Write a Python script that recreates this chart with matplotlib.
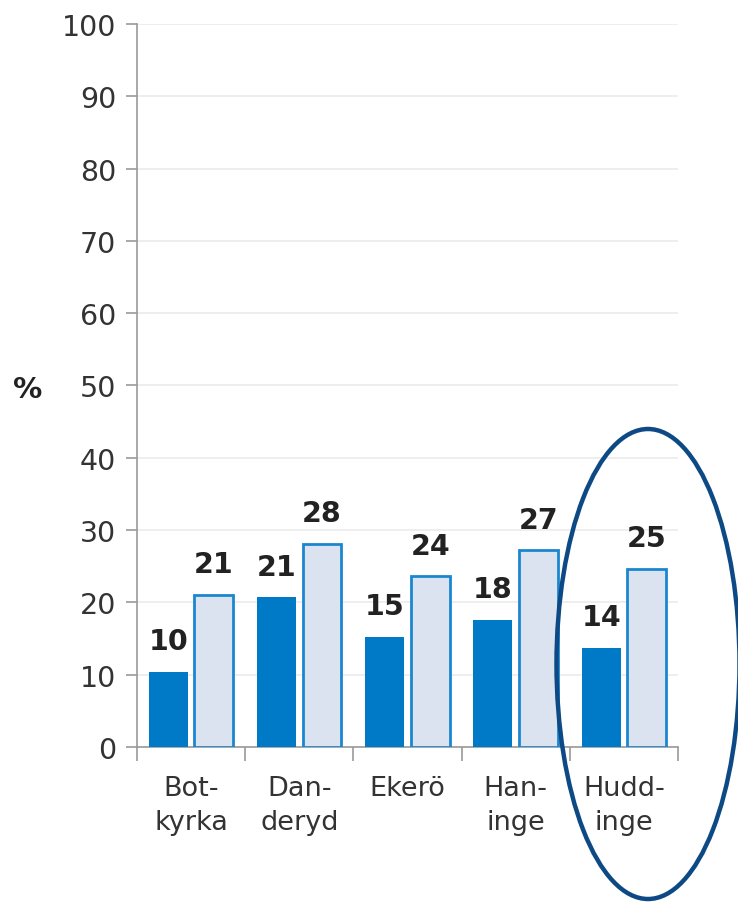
import matplotlib.pyplot as plt
import numpy as np
from matplotlib.patches import Ellipse

# Data
municipalities = ['Bot-\nkyrka', 'Dan-\nderyd', 'Ekerö', 'Han-\ninge', 'Hudd-\ninge']
series_a = [10.4, 20.7, 15.2, 17.6, 13.7]
series_b = [21.0, 28.1, 23.6, 27.2, 24.6]
y_ticks = list(range(0, 101, 10))

dark_blue = '#0079c6'
light_fill = '#dce3f0'
edge_blue = '#1a86d0'
text_color = '#333333'

fig = plt.figure(figsize=(7.38, 9.03), dpi=100)
ax = fig.add_axes([0.1856, 0.1717, 0.7331, 0.8006])

x = np.arange(len(municipalities))
width = 0.36
offset = 0.21

bars_a = ax.bar(x - offset, series_a, width, color=dark_blue, zorder=3)
bars_b = ax.bar(x + offset, series_b, width, color=light_fill,
                edgecolor=edge_blue, linewidth=2, zorder=3)

for bars in (bars_a, bars_b):
    for b in bars:
        h = b.get_height()
        ax.annotate(f"{round(h)}", (b.get_x() + b.get_width() / 2, h),
                    xytext=(0, 12), textcoords='offset points',
                    ha='center', va='bottom', fontsize=20.5,
                    fontweight='bold', color='#222222')

ax.set_xlim(-0.5, len(municipalities) - 0.5)
ax.set_ylim(0, 100)
ax.set_yticks(y_ticks)
ax.tick_params(axis='y', labelsize=20.5, colors='#999999', labelcolor=text_color,
               length=8, width=1.2, pad=7)

# category boundaries as tick marks, names in between
ax.set_xticks(np.arange(-0.5, len(municipalities)))
ax.set_xticklabels([])
ax.set_xticks(x, minor=True)
ax.set_xticklabels(municipalities, minor=True, fontsize=19.5,
                   color=text_color, linespacing=1.4)
ax.tick_params(axis='x', which='major', length=10, width=1.2, colors='#999999')
ax.tick_params(axis='x', which='minor', length=0, pad=20)

ax.grid(axis='y', color='#ebebeb', linewidth=1.2, zorder=0)
ax.set_axisbelow(True)
for side in ('top', 'right'):
    ax.spines[side].set_visible(False)
for side in ('left', 'bottom'):
    ax.spines[side].set_color('#999999')
    ax.spines[side].set_linewidth(1.2)

fig.text(0.038, 0.568, '%', fontsize=21, fontweight='bold',
         color='#222222', ha='center', va='center')

# highlight ring around Huddinge
ring = Ellipse((648 / 738, 1 - 665 / 903), 183 / 738, 470 / 903,
               transform=fig.transFigure, fill=False,
               edgecolor='#0d4a85', linewidth=3.2, zorder=10)
fig.patches.append(ring)

fig.savefig('out.png', dpi=100)
